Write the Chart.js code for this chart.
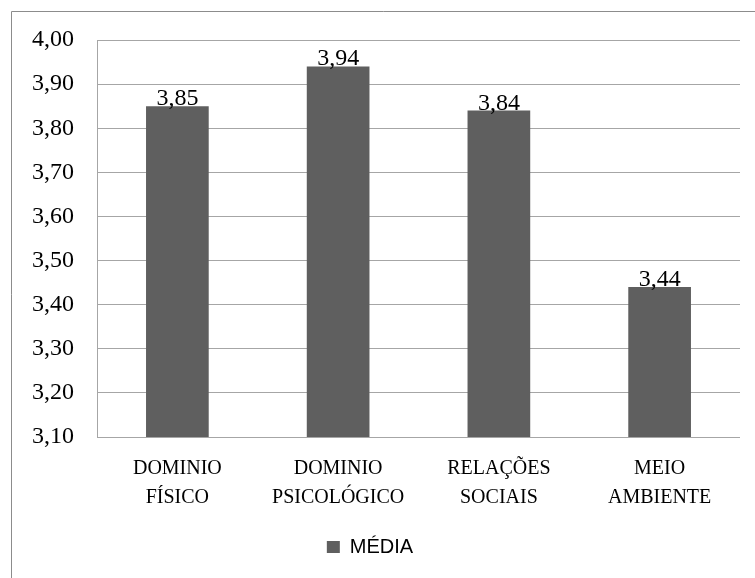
<!DOCTYPE html>
<html>
<head>
<meta charset="utf-8">
<script src="https://cdn.jsdelivr.net/npm/chart.js@4/dist/chart.umd.min.js"></script>
<style>
  html, body { margin: 0; padding: 0; background: #ffffff; }
  #wrap { position: relative; width: 755px; height: 578px; }
</style>
</head>
<body>
<div id="wrap"><canvas id="grafico"></canvas></div>
<script>
// Categorias e valores (médias por domínio)
const categorias = [["DOMINIO", "FÍSICO"], ["DOMINIO", "PSICOLÓGICO"], ["RELAÇÕES", "SOCIAIS"], ["MEIO", "AMBIENTE"]];
const medias = [3.85, 3.94, 3.84, 3.44];
const rotuloSerie = "MÉDIA";
const eixoMin = 3.10;
const eixoMax = 4.00;
const eixoPasso = 0.10;

const corBarra = "#5f5f5f";
const fmt = v => v.toFixed(2).replace(".", ",");

// Moldura externa (só topo e esquerda aparecem no original)
const moldura = {
    id: "moldura",
    beforeDraw(chart) {
        const c = chart.ctx;
        c.save();
        c.strokeStyle = "#8c8c8c";
        c.lineWidth = 1;
        c.beginPath();
        c.moveTo(11.5, 578);
        c.lineTo(11.5, 11.5);
        c.lineTo(755, 11.5);
        c.stroke();
        c.restore();
    }
};

// Rótulos de valor acima das barras
const rotulos = {
    id: "rotulos",
    afterDatasetsDraw(chart) {
        const c = chart.ctx;
        const meta = chart.getDatasetMeta(0);
        c.save();
        c.font = "24px 'Liberation Serif', serif";
        c.fillStyle = "#000000";
        c.textAlign = "center";
        c.textBaseline = "alphabetic";
        meta.data.forEach((bar, i) => {
            c.fillText(fmt(medias[i]), bar.x, bar.y - 1);
        });
        c.restore();
    }
};

const ctx = document.getElementById("grafico").getContext("2d");
const grafico = new Chart(ctx, {
    type: "bar",
    data: {
        labels: categorias,
        datasets: [{
            label: rotuloSerie,
            data: medias,
            backgroundColor: corBarra,
            borderWidth: 0,
            categoryPercentage: 1.0,
            barPercentage: 0.39
        }]
    },
    options: {
        responsive: true,
        maintainAspectRatio: false,
        animation: false,
        layout: { padding: { top: 40, right: 15, bottom: 11, left: 0 } },
        scales: {
            x: {
                grid: { display: false, drawTicks: false },
                border: { display: false },
                ticks: {
                    color: "#000000",
                    padding: 17,
                    maxRotation: 0,
                    autoSkip: false,
                    font: { family: "'Liberation Serif', serif", size: 20, lineHeight: 1.45 }
                },
                afterFit(scale) { scale.height = 90; }
            },
            y: {
                min: eixoMin,
                max: eixoMax,
                grid: { color: "#a6a6a6", lineWidth: 1, drawTicks: false },
                border: { display: true, color: "#a6a6a6" },
                ticks: {
                    stepSize: eixoPasso,
                    color: "#000000",
                    padding: 23,
                    font: { family: "'Liberation Serif', serif", size: 24 },
                    callback: v => fmt(v)
                },
                afterFit(scale) { scale.width = 97; }
            }
        },
        plugins: {
            legend: {
                position: "bottom",
                labels: {
                    color: "#000000",
                    boxWidth: 13,
                    boxHeight: 12,
                    padding: 10,
                    font: { family: "'Liberation Sans', sans-serif", size: 20 }
                }
            },
            tooltip: { enabled: false }
        }
    },
    plugins: [moldura, rotulos]
});
</script>
</body>
</html>
